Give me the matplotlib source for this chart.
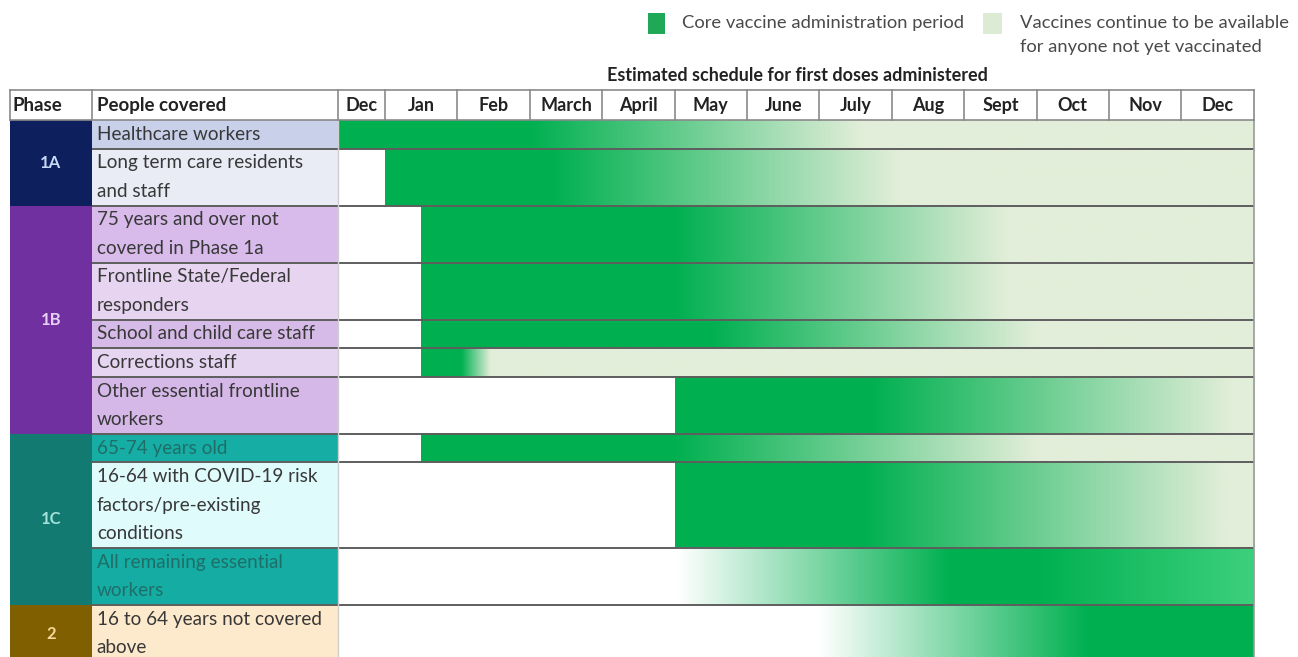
import numpy as np
import matplotlib
matplotlib.use('Agg')
import matplotlib.pyplot as plt
from matplotlib.colors import to_rgb
from matplotlib.patches import Rectangle

plt.rcParams['font.family'] = ['Lato', 'DejaVu Sans']

# ---- data ----
months = ["Dec", "Jan", "Feb", "March", "April", "May", "June",
          "July", "Aug", "Sept", "Oct", "Nov", "Dec"]
month_edges = [-0.65, 0, 1, 2, 3, 4, 5, 6, 7, 8, 9, 10, 11, 12]

phases = ["1A", "1B", "1C", "2"]
phase_sizes = [2, 5, 3, 1]

people = [
    "Healthcare workers",
    "Long term care residents\nand staff",
    "75 years and over not\ncovered in Phase 1a",
    "Frontline State/Federal\nresponders",
    "School and child care staff",
    "Corrections staff",
    "Other essential frontline\nworkers",
    "65-74 years old",
    "16-64 with COVID-19 risk\nfactors/pre-existing\nconditions",
    "All remaining essential\nworkers",
    "16 to 64 years not covered\nabove",
]

# schedule: (month position, shade) stops for each row
schedule = [
    [(-0.65, "core"), (2.0, "core"), (6.6, "light"), (12, "light")],
    [(0.0, "core"), (2.3, "core"), (7.1, "light"), (12, "light")],
    [(0.5, "core"), (4.0, "core"), (8.6, "light"), (12, "light")],
    [(0.5, "core"), (4.0, "core"), (8.6, "light"), (12, "light")],
    [(0.5, "core"), (4.5, "core"), (9.0, "light"), (12, "light")],
    [(0.5, "core"), (1.05, "core"), (1.45, "light"), (12, "light")],
    [(4.0, "core"), (6.7, "core"), (11.7, "light"), (12, "light")],
    [(0.5, "core"), (4.0, "core"), (9.0, "light"), (12, "light")],
    [(4.0, "core"), (6.6, "core"), (11.6, "light"), (12, "light")],
    [(4.05, "white"), (7.8, "core"), (9.0, "core"), (12, "bright")],
    [(6.0, "white"), (9.7, "core"), (12, "core")],
]

# ---- styles ----
shades = {"core": "#00b050", "light": "#e2eed9", "white": "#ffffff",
          "bright": "#3dd07c"}
phase_colors = ["#0d1f5c", "#7030a0", "#137a72", "#7f5f00"]
phase_text = ["#c8d8f6", "#e6cff6", "#a3e2da", "#f6d99c"]
people_colors = ["#c8d0ea", "#e9ebf5",
                 "#d8bbea", "#e6d4f0", "#d6bbe8", "#e6d5f1", "#d6b8e8",
                 "#16ada4", "#dffbfb", "#15aca3",
                 "#fde9cb"]
people_text = ["#383838"] * 7 + ["#1f6e68", "#383838", "#1f6e68", "#383838"]

W, H = 1298, 657
px_month = 72.4
jan_px = 385
line_px = 28.53
top_px = 120

phase_left = -5.18
people_left = -4.05
header_top = -1.05

fig = plt.figure(figsize=(W / 100, H / 100), dpi=100)
ax = fig.add_axes([0, 0, 1, 1])
ax.set_axis_off()

# row extents in "text line" units
n_lines = [p.count("\n") + 1 for p in people]
row_top = np.concatenate([[0], np.cumsum(n_lines)[:-1]])
row_bot = row_top + np.array(n_lines)

# people cells + labels
for i, label in enumerate(people):
    ax.add_patch(Rectangle((people_left, row_top[i]), month_edges[0] - people_left,
                           n_lines[i], facecolor=people_colors[i], edgecolor='none', zorder=1))
    for j, line in enumerate(label.split("\n")):
        ax.text(people_left + 0.07, row_top[i] + j + 0.5, line, fontsize=13.6,
                color=people_text[i], va='center', ha='left', zorder=5)

# phase cells
start = 0
for name, size, col, tcol in zip(phases, phase_sizes, phase_colors, phase_text):
    top = row_top[start]
    bot = row_bot[start + size - 1]
    ax.add_patch(Rectangle((phase_left, top), people_left - phase_left, bot - top,
                           facecolor=col, edgecolor='none', zorder=1))
    ax.text((phase_left + people_left) / 2, (top + bot) / 2, name, fontsize=12,
            color=tcol, ha='center', va='center', fontweight='bold', zorder=5)
    start += size

# schedule gradients
for i, stops in enumerate(schedule):
    xs = [s[0] for s in stops]
    cols = np.array([to_rgb(shades[s[1]]) for s in stops])
    grid = np.linspace(xs[0], 12, 600)
    img = np.stack([np.interp(grid, xs, cols[:, k]) for k in range(3)], axis=-1)
    ax.imshow(img[None, :, :], extent=[xs[0], 12, row_bot[i], row_top[i]],
              aspect='auto', interpolation='bilinear', zorder=2)

total = row_bot[-1]

# row separators
for b in row_bot[:-1]:
    ax.plot([people_left, 12], [b, b], color='#5e5e5e', lw=1.4, zorder=3,
            solid_capstyle='butt')
ax.plot([month_edges[0], month_edges[0]], [0, total], color='#cfcfcf', lw=1, zorder=3)
ax.plot([12, 12], [0, total], color='#9a9a9a', lw=1.2, zorder=3)

# header
for y in (header_top, 0):
    ax.plot([phase_left, 12], [y, y], color='#8a8a8a', lw=1.2, zorder=4)
for x in [phase_left, people_left] + month_edges:
    ax.plot([x, x], [header_top, 0], color='#8a8a8a', lw=1.2, zorder=4)
hy = header_top / 2
ax.text(phase_left + 0.03, hy, "Phase", fontsize=13.5, fontweight='bold',
        color='#222222', ha='left', va='center')
ax.text(people_left + 0.07, hy, "People covered", fontsize=13.5, fontweight='bold',
        color='#222222', ha='left', va='center')
for k, m in enumerate(months):
    ax.text((month_edges[k] + month_edges[k + 1]) / 2, hy, m, fontsize=13,
            fontweight='bold', color='#222222', ha='center', va='center')

ax.text(5.69, -1.55, "Estimated schedule for first doses administered", fontsize=13,
        fontweight='bold', color='#222222', ha='center', va='center')

ax.set_xlim(-jan_px / px_month, (W - jan_px) / px_month)
ax.set_ylim((H - top_px) / line_px, -top_px / line_px)

# legend (figure pixel layout)
def fx(px):
    return px / W


def fy(py):
    return 1 - py / H


fig.add_artist(Rectangle((fx(648), fy(34)), 17 / W, 21 / H, facecolor='#1fa855',
                         edgecolor='none', transform=fig.transFigure))
fig.text(fx(682), fy(23), "Core vaccine administration period", fontsize=13.2,
         color='#4a4a4a', va='center', ha='left')
fig.add_artist(Rectangle((fx(983), fy(34)), 19 / W, 21 / H, facecolor='#dcebd3',
                         edgecolor='none', transform=fig.transFigure))
fig.text(fx(1020), fy(23), "Vaccines continue to be available", fontsize=13.2,
         color='#4a4a4a', va='center', ha='left')
fig.text(fx(1020), fy(47), "for anyone not yet vaccinated", fontsize=13.2,
         color='#4a4a4a', va='center', ha='left')

fig.savefig('out.png', dpi=100, facecolor='white')
